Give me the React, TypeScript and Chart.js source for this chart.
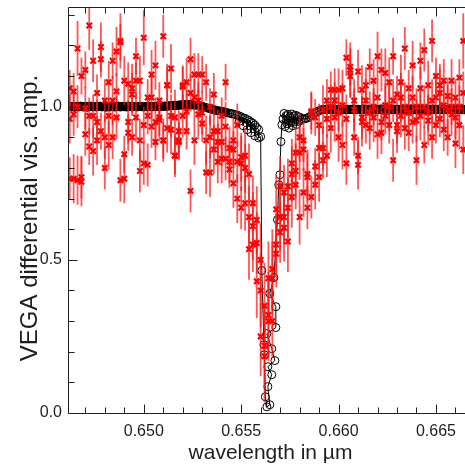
import React, { useEffect, useRef } from "react";
import { Chart, registerables } from "chart.js";

Chart.register(...registerables);

// ---------- observed data (3 baselines on a common wavelength grid, µm) ----------
const wavelength = [
  0.6462, 0.6464, 0.6466, 0.6468, 0.6470, 0.6472, 0.6474, 0.6476, 0.6478, 0.6480,
  0.6482, 0.6484, 0.6486, 0.6488, 0.6490, 0.6492, 0.6494, 0.6496, 0.6498, 0.6500,
  0.6502, 0.6504, 0.6506, 0.6508, 0.6510, 0.6512, 0.6514, 0.6516, 0.6518, 0.6520,
  0.6522, 0.6524, 0.6526, 0.6528, 0.6530, 0.6532, 0.6534, 0.6536, 0.6538, 0.6540,
  0.6542, 0.6544, 0.6546, 0.6548, 0.6550, 0.6552, 0.6554, 0.6556, 0.6558, 0.6560,
  0.6562, 0.6564, 0.6566, 0.6568, 0.6570, 0.6572, 0.6574, 0.6576, 0.6578, 0.6580,
  0.6582, 0.6584, 0.6586, 0.6588, 0.6590, 0.6592, 0.6594, 0.6596, 0.6598, 0.6600,
  0.6602, 0.6604, 0.6606, 0.6608, 0.6610, 0.6612, 0.6614, 0.6616, 0.6618, 0.6620,
  0.6622, 0.6624, 0.6626, 0.6628, 0.6630, 0.6632, 0.6634, 0.6636, 0.6638, 0.6640,
  0.6642, 0.6644, 0.6646, 0.6648, 0.6650, 0.6652, 0.6654, 0.6656, 0.6658, 0.6660,
  0.6662, 0.6664,
];

const visA = [
  0.765, 0.765, 1.19, 0.77, 1.12, 1.265, 1.15, 1.045, 1.195, 1.02,
  0.97, 0.90, 1.18, 1.215, 0.845, 1.075, 1.06, 1.165, 0.89, 1.225,
  1.03, 1.03, 1.135, 1.02, 1.23, 1.07, 1.125, 0.84, 0.92, 1.07,
  1.08, 1.155, 1.03, 1.105, 1.105, 0.89, 0.90, 0.92, 0.92, 0.885,
  1.08, 0.865, 0.89, 0.94, 0.835, 0.84, 0.78, 0.685, 0.63, 0.50,
  0.35, 0.44, 0.47, 0.665, 0.59, 0.72, 0.56, 0.815, 0.79, 0.90,
  0.89, 0.77, 0.98, 0.805, 0.94, 0.99, 0.84, 1.055, 1.055, 0.90,
  1.06, 0.815, 1.12, 1.02, 0.84, 1.055, 1.02, 1.13, 1.085, 1.165,
  0.95, 1.005, 1.08, 1.165, 0.92, 1.08, 1.19, 1.06, 1.135, 0.955,
  1.15, 1.185, 0.955, 1.215, 0.94, 1.045, 1.085, 1.035, 1.085, 0.88,
  1.095, 1.215,
];
const visB = [
  1.06, 0.975, 0.76, 1.10, 0.995, 0.97, 0.855, 0.95, 1.155, 0.90,
  0.875, 1.15, 0.965, 1.21, 1.085, 0.95, 0.90, 0.965, 0.79, 0.94,
  0.81, 1.105, 0.885, 0.957, 0.89, 0.93, 0.97, 0.965, 0.89, 1.065,
  0.92, 0.725, 0.89, 1.02, 0.98, 1.08, 0.785, 1.04, 0.885, 0.83,
  0.83, 0.795, 0.75, 0.82, 0.815, 0.80, 0.64, 0.61, 0.555, 0.40,
  0.22, 0.32, 0.44, 0.52, 0.74, 0.605, 0.74, 0.705, 0.85, 0.64,
  0.72, 0.67, 0.985, 0.745, 0.865, 0.825, 1.02, 0.93, 1.02, 1.055,
  0.875, 1.16, 1.10, 0.90, 0.81, 0.965, 0.94, 0.98, 0.965, 1.03,
  0.915, 1.11, 0.94, 1.02, 0.94, 1.03, 0.93, 0.915, 1.03, 0.825,
  1.06, 0.875, 1.07, 1.02, 1.10, 1.07, 1.005, 0.90, 0.975, 1.03,
  0.94, 1.045,
];
const visC = [
  0.96, 1.05, 1.00, 0.755, 0.91, 0.87, 0.97, 0.89, 0.92, 0.80,
  1.08, 1.02, 1.05, 0.76, 0.765, 0.915, 1.04, 1.085, 1.085, 0.815,
  0.97, 0.935, 0.95, 0.965, 0.89, 1.07, 0.925, 0.84, 0.885, 0.97,
  0.985, 1.045, 1.105, 0.975, 0.945, 0.785, 1.00, 0.86, 0.82, 0.97,
  0.935, 0.82, 0.86, 0.70, 0.67, 0.685, 0.535, 0.55, 0.43, 0.25,
  0.185, 0.30, 0.30, 0.55, 0.64, 0.64, 0.67, 0.78, 0.745, 0.85,
  0.86, 0.78, 0.705, 0.965, 0.77, 0.865, 0.96, 1.00, 0.965, 0.98,
  1.005, 0.96, 1.13, 0.99, 1.115, 0.95, 1.07, 0.93, 1.00, 0.91,
  1.12, 0.97, 1.00, 0.825, 1.04, 0.97, 1.00, 0.98, 0.95, 1.00,
  0.97, 1.00, 0.98, 0.90, 1.03, 0.96, 0.925, 0.99, 1.00, 0.965,
  1.00, 0.86,
];

const errA = [
  0.07, 0.08, 0.09, 0.07, 0.06, 0.08, 0.07, 0.06, 0.08, 0.07,
  0.06, 0.07, 0.08, 0.09, 0.06, 0.07, 0.08, 0.06, 0.07, 0.09,
  0.06, 0.07, 0.08, 0.06, 0.07, 0.07, 0.08, 0.06, 0.07, 0.06,
  0.08, 0.07, 0.06, 0.07, 0.06, 0.08, 0.07, 0.06, 0.07, 0.08,
  0.06, 0.07, 0.08, 0.07, 0.08, 0.09, 0.10, 0.09, 0.11, 0.12,
  0.14, 0.12, 0.13, 0.11, 0.10, 0.09, 0.10, 0.08, 0.09, 0.08,
  0.07, 0.08, 0.07, 0.06, 0.07, 0.08, 0.07, 0.06, 0.07, 0.08,
  0.06, 0.07, 0.09, 0.07, 0.06, 0.08, 0.07, 0.06, 0.07, 0.08,
  0.06, 0.07, 0.08, 0.06, 0.07, 0.09, 0.07, 0.06, 0.08, 0.07,
  0.06, 0.07, 0.08, 0.07, 0.06, 0.08, 0.07, 0.06, 0.07, 0.08,
  0.06, 0.09,
];
const errB = [
  0.06, 0.07, 0.08, 0.06, 0.07, 0.06, 0.08, 0.07, 0.06, 0.07,
  0.08, 0.06, 0.07, 0.06, 0.08, 0.07, 0.06, 0.08, 0.07, 0.06,
  0.07, 0.08, 0.06, 0.07, 0.06, 0.08, 0.07, 0.09, 0.06, 0.07,
  0.06, 0.07, 0.08, 0.06, 0.07, 0.06, 0.08, 0.07, 0.06, 0.08,
  0.07, 0.06, 0.08, 0.07, 0.09, 0.08, 0.10, 0.11, 0.10, 0.12,
  0.13, 0.14, 0.12, 0.11, 0.10, 0.11, 0.09, 0.10, 0.08, 0.09,
  0.08, 0.07, 0.06, 0.08, 0.07, 0.06, 0.07, 0.08, 0.06, 0.07,
  0.08, 0.06, 0.07, 0.06, 0.08, 0.07, 0.06, 0.07, 0.08, 0.06,
  0.07, 0.08, 0.06, 0.07, 0.06, 0.08, 0.07, 0.06, 0.07, 0.08,
  0.07, 0.06, 0.08, 0.07, 0.06, 0.07, 0.08, 0.06, 0.07, 0.06,
  0.08, 0.07,
];
const errC = [
  0.08, 0.06, 0.07, 0.08, 0.07, 0.06, 0.07, 0.08, 0.06, 0.07,
  0.07, 0.08, 0.06, 0.07, 0.08, 0.06, 0.07, 0.06, 0.08, 0.07,
  0.06, 0.07, 0.08, 0.06, 0.07, 0.06, 0.08, 0.07, 0.06, 0.07,
  0.07, 0.06, 0.07, 0.08, 0.06, 0.07, 0.06, 0.08, 0.07, 0.06,
  0.08, 0.07, 0.06, 0.08, 0.07, 0.09, 0.10, 0.09, 0.12, 0.13,
  0.15, 0.13, 0.12, 0.10, 0.11, 0.09, 0.10, 0.09, 0.08, 0.09,
  0.07, 0.08, 0.07, 0.06, 0.08, 0.07, 0.06, 0.07, 0.08, 0.06,
  0.07, 0.08, 0.06, 0.07, 0.07, 0.08, 0.06, 0.07, 0.06, 0.08,
  0.07, 0.06, 0.08, 0.07, 0.06, 0.07, 0.08, 0.06, 0.07, 0.06,
  0.08, 0.07, 0.06, 0.07, 0.08, 0.06, 0.07, 0.08, 0.06, 0.07,
  0.07, 0.08,
];

// ---------- model (black circles + line) ----------
const modelFlatLeftWl = [
  0.6460, 0.64605, 0.6461, 0.64615, 0.6462, 0.64625, 0.6463, 0.64635, 0.6464, 0.64645,
  0.6465, 0.64655, 0.6466, 0.64665, 0.6467, 0.64675, 0.6468, 0.64685, 0.6469, 0.64695,
  0.6470, 0.64705, 0.6471, 0.64715, 0.6472, 0.64725, 0.6473, 0.64735, 0.6474, 0.64745,
  0.6475, 0.64755, 0.6476, 0.64765, 0.6477, 0.64775, 0.6478, 0.64785, 0.6479, 0.64795,
  0.6480, 0.64805, 0.6481, 0.64815, 0.6482, 0.64825, 0.6483, 0.64835, 0.6484, 0.64845,
  0.6485, 0.64855, 0.6486, 0.64865, 0.6487, 0.64875, 0.6488, 0.64885, 0.6489, 0.64895,
  0.6490, 0.64905, 0.6491, 0.64915, 0.6492, 0.64925, 0.6493, 0.64935, 0.6494, 0.64945,
  0.6495, 0.64955, 0.6496, 0.64965, 0.6497, 0.64975, 0.6498, 0.64985, 0.6499, 0.64995,
  0.6500, 0.65005, 0.6501, 0.65015, 0.6502, 0.65025, 0.6503, 0.65035, 0.6504, 0.65045,
  0.6505, 0.65055, 0.6506, 0.65065, 0.6507, 0.65075, 0.6508, 0.65085, 0.6509, 0.65095,
  0.6510, 0.65105, 0.6511, 0.65115, 0.6512, 0.65125, 0.6513, 0.65135, 0.6514, 0.65145,
  0.6515, 0.65155, 0.6516, 0.65165, 0.6517, 0.65175, 0.6518, 0.65185, 0.6519, 0.65195,
  0.6520, 0.65205, 0.6521, 0.65215, 0.6522, 0.65225, 0.6523, 0.65235, 0.6524, 0.65245,
  0.6525, 0.65255, 0.6526,
];
const modelFlatLeftVis = [
  1.000, 1.001, 0.999, 1.000, 1.002, 1.000, 0.999, 1.001, 1.000, 0.998,
  1.000, 1.001, 1.000, 0.999, 1.000, 1.002, 1.001, 1.000, 0.999, 1.000,
  1.001, 1.000, 0.998, 1.000, 1.001, 1.000, 1.002, 1.000, 0.999, 1.000,
  1.000, 0.999, 1.001, 1.000, 1.000, 1.002, 1.001, 0.999, 1.000, 1.001,
  1.000, 0.998, 1.000, 1.001, 1.000, 0.999, 1.000, 1.002, 1.000, 1.001,
  0.999, 1.000, 1.001, 1.000, 1.002, 1.000, 0.999, 1.000, 1.001, 1.000,
  1.000, 1.001, 0.999, 1.000, 1.000, 1.002, 1.000, 1.001, 0.999, 1.000,
  1.001, 1.000, 1.000, 0.999, 1.001, 1.000, 1.002, 1.001, 1.000, 1.000,
  0.999, 1.000, 1.001, 1.000, 1.000, 1.002, 1.001, 1.000, 1.001, 1.000,
  1.000, 1.001, 1.000, 1.002, 1.001, 1.000, 1.001, 1.002, 1.001, 1.002,
  1.001, 1.002, 1.002, 1.001, 1.002, 1.003, 1.002, 1.003, 1.003, 1.004,
  1.003, 1.004, 1.004, 1.005, 1.004, 1.005, 1.005, 1.006, 1.005, 1.006,
  1.006, 1.006, 1.007, 1.006, 1.007, 1.007, 1.006, 1.007, 1.007, 1.006,
  1.006, 1.006, 1.005,
];

const modelCoreWl = [
  0.6527, 0.6528, 0.6529, 0.6530, 0.6531, 0.6532, 0.6533, 0.6534, 0.6535, 0.6536,
  0.6537, 0.6538, 0.6539, 0.6540, 0.6541, 0.6542, 0.6543, 0.6544, 0.6545, 0.6546,
  0.6547, 0.6548, 0.6549, 0.6549, 0.6550, 0.6551, 0.6551, 0.6552, 0.6553, 0.6553,
  0.6554, 0.6555, 0.6555, 0.6556, 0.6557, 0.6557, 0.6558, 0.6559, 0.6559, 0.6560,
  0.65606, 0.65617, 0.65619, 0.65624, 0.65632, 0.65647, 0.65637, 0.65657, 0.65637, 0.65673,
  0.65657, 0.65632, 0.65678, 0.65678, 0.65647, 0.65668, 0.65686, 0.65693, 0.65699, 0.65704,
  0.65709, 0.65715, 0.6572, 0.65725, 0.6573, 0.65735, 0.6574, 0.65745, 0.6575, 0.65755,
  0.6576, 0.65765, 0.6577, 0.65775, 0.6578, 0.65785, 0.6579, 0.65795, 0.6580, 0.65805,
  0.6581, 0.6582, 0.6583, 0.6584, 0.6585, 0.6586, 0.6587, 0.6588, 0.6589, 0.6590,
  0.6591,
];
const modelCoreVis = [
  1.005, 1.004, 1.003, 1.001, 0.999, 0.997, 0.995, 0.994, 0.992, 0.990,
  0.989, 0.987, 0.986, 0.985, 0.984, 0.982, 0.980, 0.979, 0.977, 0.976,
  0.974, 0.972, 0.970, 0.952, 0.967, 0.963, 0.938, 0.962, 0.958, 0.925,
  0.955, 0.950, 0.915, 0.946, 0.940, 0.905, 0.932, 0.925, 0.898, 0.902,
  0.465, 0.223, 0.190, 0.053, 0.020, 0.027, 0.086, 0.125, 0.151, 0.171,
  0.210, 0.259, 0.279, 0.347, 0.390, 0.442, 0.631, 0.745, 0.778, 0.886,
  0.941, 0.960, 0.978, 0.935, 0.970, 0.945, 0.975, 0.930, 0.968, 0.948,
  0.976, 0.938, 0.970, 0.950, 0.972, 0.942, 0.968, 0.952, 0.966, 0.955,
  0.962, 0.960, 0.961, 0.963, 0.967, 0.971, 0.975, 0.979, 0.983, 0.987,
  0.990,
];

const modelFlatRightWl = [
  0.6592, 0.65925, 0.6593, 0.65935, 0.6594, 0.65945,
  0.6595, 0.65955, 0.6596, 0.65965, 0.6597, 0.65975, 0.6598, 0.65985, 0.6599, 0.65995,
  0.6600, 0.66005, 0.6601, 0.66015, 0.6602, 0.66025, 0.6603, 0.66035, 0.6604, 0.66045,
  0.6605, 0.66055, 0.6606, 0.66065, 0.6607, 0.66075, 0.6608, 0.66085, 0.6609, 0.66095,
  0.6610, 0.66105, 0.6611, 0.66115, 0.6612, 0.66125, 0.6613, 0.66135, 0.6614, 0.66145,
  0.6615, 0.66155, 0.6616, 0.66165, 0.6617, 0.66175, 0.6618, 0.66185, 0.6619, 0.66195,
  0.6620, 0.66205, 0.6621, 0.66215, 0.6622, 0.66225, 0.6623, 0.66235, 0.6624, 0.66245,
  0.6625, 0.66255, 0.6626, 0.66265, 0.6627, 0.66275, 0.6628, 0.66285, 0.6629, 0.66295,
  0.6630, 0.66305, 0.6631, 0.66315, 0.6632, 0.66325, 0.6633, 0.66335, 0.6634, 0.66345,
  0.6635, 0.66355, 0.6636, 0.66365, 0.6637, 0.66375, 0.6638, 0.66385, 0.6639, 0.66395,
  0.6640, 0.66405, 0.6641, 0.66415, 0.6642, 0.66425, 0.6643, 0.66435, 0.6644, 0.66445,
  0.6645, 0.66455, 0.6646, 0.66465, 0.6647, 0.66475, 0.6648, 0.66485, 0.6649, 0.66495,
  0.6650, 0.66505, 0.6651, 0.66515, 0.6652, 0.66525, 0.6653, 0.66535, 0.6654, 0.66545,
  0.6655, 0.66555, 0.6656, 0.66565, 0.6657, 0.66575, 0.6658, 0.66585, 0.6659, 0.66595,
  0.6660, 0.66605, 0.6661, 0.66615, 0.6662, 0.66625, 0.6663, 0.66635, 0.6664, 0.66645,
  0.6665,
];
const modelFlatRightVis = [
  0.990, 0.991, 0.991, 0.992, 0.991, 0.992,
  0.991, 0.992, 0.990, 0.991, 0.993, 0.991, 0.990, 0.992, 0.991, 0.991,
  0.992, 0.991, 0.990, 0.992, 0.991, 0.993, 0.991, 0.990, 0.991, 0.992,
  0.991, 0.990, 0.992, 0.991, 0.991, 0.993, 0.992, 0.991, 0.990, 0.991,
  0.992, 0.991, 0.991, 0.990, 0.992, 0.991, 0.993, 0.991, 0.990, 0.992,
  0.991, 0.992, 0.990, 0.991, 0.992, 0.991, 0.990, 0.993, 0.991, 0.991,
  0.990, 0.991, 0.992, 0.991, 0.993, 0.990, 0.991, 0.992, 0.991, 0.990,
  0.992, 0.991, 0.991, 0.993, 0.990, 0.991, 0.992, 0.991, 0.990, 0.992,
  0.991, 0.990, 0.992, 0.991, 0.991, 0.992, 0.993, 0.991, 0.990, 0.991,
  0.992, 0.991, 0.990, 0.991, 0.993, 0.991, 0.992, 0.990, 0.991, 0.992,
  0.991, 0.992, 0.991, 0.990, 0.991, 0.993, 0.991, 0.992, 0.990, 0.991,
  0.990, 0.991, 0.992, 0.991, 0.992, 0.990, 0.991, 0.993, 0.991, 0.992,
  0.991, 0.990, 0.991, 0.992, 0.991, 0.991, 0.993, 0.990, 0.992, 0.991,
  0.992, 0.991, 0.990, 0.991, 0.992, 0.993, 0.991, 0.990, 0.991, 0.992,
  0.991, 0.992, 0.991, 0.990, 0.991, 0.992, 0.991, 0.993, 0.991, 0.990,
  0.991,
];

// ---------- axes ----------
const xMin = 0.64611;
const xMax = 0.66649;
const yMin = 0.0;
const yMax = 1.3255;
const xTickValues = [0.65, 0.655, 0.66, 0.665];
const xTickLabels = ["0.650", "0.655", "0.660", "0.665"];
const yTickValues = [0.0, 0.5, 1.0];
const yTickLabels = ["0.0", "0.5", "1.0"];
const xMinorStep = 0.001;
const yMinorStep = 0.1;
const xTitle = "wavelength in \u00b5m";
const yTitle = "VEGA differential vis. amp.";

const FONT = '"Liberation Sans", Arial, Helvetica, sans-serif';
const INK = "#1e1e1e";

const redSeries = [
  { vis: visA, err: errA },
  { vis: visB, err: errB },
  { vis: visC, err: errC },
];
const MODEL_INDEX = 3;
const nFlatLeft = modelFlatLeftWl.length;
const nCore = modelCoreWl.length;
const nSolidShoulder = 16; // first shoulder circles drawn filled (dense band)

function labelFor(values: number[], labels: string[], v: number) {
  const i = values.findIndex((t) => Math.abs(t - v) < 1e-9);
  return i >= 0 ? labels[i] : "";
}

const decorPlugin = {
  id: "decor",
  afterDatasetDraw(chart: any, args: any) {
    if (args.index !== MODEL_INDEX) return;
    const { ctx, chartArea, scales } = chart;
    const xs = scales.x;
    const ys = scales.y;
    ctx.save();
    ctx.beginPath();
    ctx.rect(chartArea.left, chartArea.top, chartArea.right - chartArea.left, chartArea.bottom - chartArea.top);
    ctx.clip();
    ctx.strokeStyle = "rgba(255,20,20,0.72)";
    ctx.lineWidth = 1.8;
    redSeries.forEach((s) => {
      for (let i = 0; i < wavelength.length; i++) {
        const px = xs.getPixelForValue(wavelength[i]);
        const y1 = ys.getPixelForValue(s.vis[i] - s.err[i]);
        const y2 = ys.getPixelForValue(s.vis[i] + s.err[i]);
        ctx.beginPath();
        ctx.moveTo(px, y1);
        ctx.lineTo(px, y2);
        ctx.stroke();
      }
    });
    ctx.restore();
  },
  afterDraw(chart: any) {
    const { ctx, chartArea, scales } = chart;
    const xs = scales.x;
    const ys = scales.y;
    const { left, right, top, bottom } = chartArea;
    ctx.save();
    ctx.strokeStyle = INK;
    ctx.lineWidth = 1;
    ctx.beginPath();
    ctx.moveTo(left + 0.5, top + 0.5);
    ctx.lineTo(left + 0.5, bottom + 0.5);
    ctx.lineTo(right, bottom + 0.5);
    ctx.moveTo(left + 0.5, top + 0.5);
    ctx.lineTo(right, top + 0.5);
    ctx.stroke();
    const majorLen = 9;
    const minorLen = 6;
    ctx.beginPath();
    const x0 = Math.ceil(xMin / xMinorStep) * xMinorStep;
    for (let v = x0; v <= xMax + 1e-9; v += xMinorStep) {
      const isMajor = xTickValues.some((t) => Math.abs(t - v) < 1e-7);
      const len = isMajor ? majorLen : minorLen;
      const px = Math.round(xs.getPixelForValue(v)) + 0.5;
      ctx.moveTo(px, bottom + 0.5);
      ctx.lineTo(px, bottom + 0.5 - len);
      ctx.moveTo(px, top + 0.5);
      ctx.lineTo(px, top + 0.5 + len);
    }
    for (let v = yMin; v <= yMax + 1e-9; v += yMinorStep) {
      const isMajor = yTickValues.some((t) => Math.abs(t - v) < 1e-7);
      const len = isMajor ? majorLen : minorLen;
      const py = Math.round(ys.getPixelForValue(v)) + 0.5;
      ctx.moveTo(left + 0.5, py);
      ctx.lineTo(left + 0.5 + len, py);
    }
    ctx.stroke();
    ctx.fillStyle = INK;
    ctx.textAlign = "center";
    ctx.textBaseline = "alphabetic";
    ctx.font = `21px ${FONT}`;
    ctx.fillText(xTitle, (left + right) / 2 + 4, 459);
    ctx.font = `24px ${FONT}`;
    ctx.translate(37, (top + bottom) / 2 + 8);
    ctx.rotate(-Math.PI / 2);
    ctx.fillText(yTitle, 0, 0);
    ctx.restore();
  },
};

export default function App() {
  const canvasRef = useRef<HTMLCanvasElement | null>(null);

  useEffect(() => {
    const canvas = canvasRef.current;
    if (!canvas) return;
    const redDatasets = redSeries.map((s, k) => ({
      label: `baseline ${k + 1}`,
      data: wavelength.map((w, i) => ({ x: w, y: s.vis[i] })),
      showLine: false,
      pointStyle: "crossRot",
      pointRadius: 3.8,
      pointBorderWidth: 2.2,
      borderWidth: 2.2,
      borderColor: "#ff0000",
      pointBorderColor: "#ff0000",
      backgroundColor: "#ff0000",
      clip: 0,
    }));
    const modelWl = [...modelFlatLeftWl, ...modelCoreWl, ...modelFlatRightWl];
    const modelVis = [...modelFlatLeftVis, ...modelCoreVis, ...modelFlatRightVis];
    const chart = new Chart(canvas, {
      type: "scatter",
      data: {
        datasets: [
          ...redDatasets,
          {
            label: "model",
            data: modelWl.map((w, i) => ({ x: w, y: modelVis[i] })),
            showLine: true,
            borderColor: "#000000",
            borderWidth: 1,
            pointStyle: "circle",
            pointRadius: 4,
            pointBorderWidth: 1,
            pointBorderColor: "#000000",
            pointBackgroundColor: (c: any) =>
              c.dataIndex < nFlatLeft + nSolidShoulder || c.dataIndex >= nFlatLeft + nCore
                ? "#000000"
                : "rgba(0,0,0,0)",
            backgroundColor: "rgba(0,0,0,0)",
            tension: 0,
            clip: 0,
          },
        ] as any,
      },
      options: {
        responsive: false,
        animation: false,
        devicePixelRatio: 1,
        events: [],
        layout: { autoPadding: false, padding: { top: 7, left: 0, right: 0, bottom: 0 } },
        plugins: { legend: { display: false }, tooltip: { enabled: false }, title: { display: false } },
        scales: {
          x: {
            type: "linear",
            min: xMin,
            max: xMax,
            grid: { display: false, drawTicks: false },
            border: { display: false },
            afterFit: (s: any) => {
              s.height = 52;
              s.paddingLeft = 0;
              s.paddingRight = 0;
            },
            afterBuildTicks: (s: any) => {
              s.ticks = xTickValues.map((v) => ({ value: v }));
            },
            ticks: {
              autoSkip: false,
              maxRotation: 0,
              padding: 9,
              color: INK,
              font: { family: FONT, size: 16 },
              callback: (v: any) => labelFor(xTickValues, xTickLabels, Number(v)),
            },
          },
          y: {
            type: "linear",
            min: yMin,
            max: yMax,
            grid: { display: false, drawTicks: false },
            border: { display: false },
            afterFit: (s: any) => {
              s.width = 68;
              s.paddingTop = 0;
              s.paddingBottom = 0;
            },
            afterBuildTicks: (s: any) => {
              s.ticks = yTickValues.map((v) => ({ value: v }));
            },
            ticks: {
              autoSkip: false,
              padding: 6,
              color: INK,
              font: { family: FONT, size: 16 },
              callback: (v: any) => labelFor(yTickValues, yTickLabels, Number(v)),
            },
          },
        },
      } as any,
      plugins: [decorPlugin as any],
    });
    return () => chart.destroy();
  }, []);

  return (
    <div style={{ position: "absolute", left: 0, top: 0, width: 465, height: 465, background: "#ffffff" }}>
      <canvas ref={canvasRef} width={465} height={465} style={{ display: "block", width: 465, height: 465 }} />
    </div>
  );
}
